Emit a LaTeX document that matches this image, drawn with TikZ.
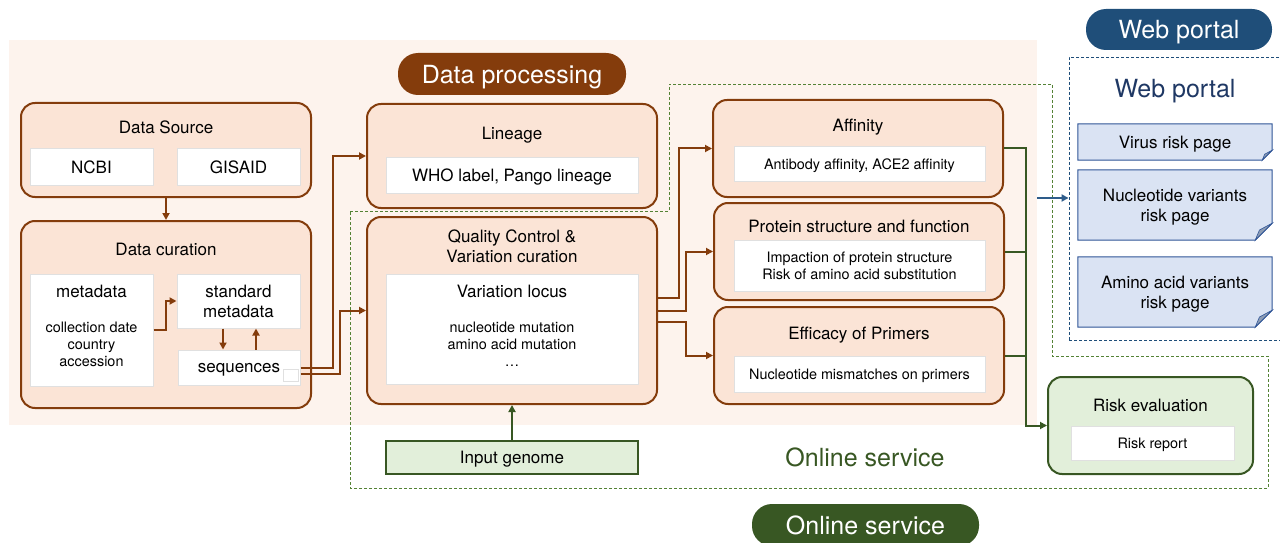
\documentclass[tikz,border=0pt]{standalone}
\usepackage{fontspec}
\setmainfont{TeX Gyre Heros}
\usetikzlibrary{arrows.meta,backgrounds}

\definecolor{bgColor}{RGB}{253,243,237}
\definecolor{boxFill}{RGB}{251,228,214}
\definecolor{brownColor}{RGB}{132,60,12}
\definecolor{greenColor}{RGB}{56,87,35}
\definecolor{greenFill}{RGB}{226,239,218}
\definecolor{dashGreen}{RGB}{84,130,53}
\definecolor{blueColor}{RGB}{31,78,121}
\definecolor{arrowBlue}{RGB}{46,92,138}
\definecolor{pageFill}{RGB}{218,227,243}
\definecolor{pageLine}{RGB}{47,85,151}
\definecolor{foldColor}{RGB}{140,156,180}
\definecolor{titleBlue}{RGB}{31,56,100}

\tikzset{
  stage/.style={draw=brownColor,fill=boxFill,line width=2pt,rounded corners=14pt,inner sep=0pt},
  item/.style={draw=black!12,fill=white,line width=1pt,inner sep=0pt},
  title/.style={font=\fontsize{17}{20}\selectfont,align=center,inner sep=0pt,text depth=0pt},
  small/.style={font=\fontsize{14.4}{17}\selectfont,align=center,inner sep=0pt,text depth=0pt},
  big/.style={font=\fontsize{25}{30}\selectfont,inner sep=0pt},
  pill/.style={rounded corners=20pt,inner sep=0pt,text=white,text depth=0pt,font=\fontsize{25}{30}\selectfont},
  flow/.style={draw=brownColor,line width=2pt,-{Triangle[length=7pt,width=7pt]}},
  okFlow/.style={draw=greenColor,line width=2pt},
  dashG/.style={draw=dashGreen,line width=0.9pt,dash pattern=on 3pt off 2pt},
  dashB/.style={draw=blueColor,line width=0.9pt,dash pattern=on 3pt off 2pt}
}

\begin{document}
\begin{tikzpicture}[x=1pt,y=1pt]
\path[use as bounding box] (0,0) rectangle (1280,542);
\fill[bgColor] (9,117) rectangle (1037,502);

\node[pill,fill=brownColor,minimum width=228pt,minimum height=42pt] (dp) at (512,468) {Data processing};

\node[stage,minimum width=290pt,minimum height=94pt] (src) at (166,392) {};
\node[title] (srcT) at (166,415) {Data Source};
\node[item,title,minimum width=123pt,minimum height=36pt] (ncbi) at (91.5,375) {NCBI};
\node[item,title,minimum width=123pt,minimum height=36pt] (gisaid) at (238.5,375) {GISAID};

\node[stage,minimum width=290pt,minimum height=187pt] (cur) at (166,227.5) {};
\node[title] (curT) at (166,293) {Data curation};
\node[item,minimum width=123pt,minimum height=112pt] (meta) at (91.5,212) {};
\node[title] (metaT) at (91.5,251) {metadata};
\node[small] (metaL) at (91.5,198) {collection date\\country\\accession};
\node[item,title,minimum width=123pt,minimum height=54pt] (std) at (238.5,241) {standard\\metadata};
\node[item,title,minimum width=122pt,minimum height=35pt] (seq) at (239,174.5) {sequences};
\node[draw=black!12,fill=white,line width=0.6pt,minimum width=15pt,minimum height=12pt,inner sep=0pt] (seqMark) at (290.5,167) {};

\node[stage,minimum width=290pt,minimum height=104pt] (lin) at (512,386) {};
\node[title] (linT) at (512,409) {Lineage};
\node[item,title,minimum width=252pt,minimum height=35pt] (linI) at (512,366.5) {WHO label, Pango lineage};

\node[stage,minimum width=290pt,minimum height=187pt] (qc) at (512,231.5) {};
\node[title] (qcT) at (512,296) {Quality Control \&\\Variation curation};
\node[item,minimum width=252pt,minimum height=110pt] (locus) at (512,213) {};
\node[title] (locusT) at (512,251) {Variation locus};
\node[small] (locusL) at (512,197.5) {nucleotide mutation\\amino acid mutation\\\dots};

\node[draw=greenColor,fill=greenFill,line width=2pt,title,minimum width=252pt,minimum height=33pt] (gen) at (512,84.5) {Input genome};

\node[stage,minimum width=290pt,minimum height=97pt] (aff) at (858,393.5) {};
\node[title] (affT) at (858,417) {Affinity};
\node[item,small,minimum width=251pt,minimum height=35pt] (affI) at (859.5,377.5) {Antibody affinity, ACE2 affinity};

\node[stage,minimum width=290pt,minimum height=97pt] (prot) at (859,290.5) {};
\node[title] (protT) at (859,316) {Protein structure and function};
\node[item,small,minimum width=251pt,minimum height=51pt] (protI) at (859.5,276.5) {Impaction of protein structure\\Risk of amino acid substitution};

\node[stage,minimum width=290pt,minimum height=97pt] (eff) at (859,186.5) {};
\node[title] (effT) at (859,209) {Efficacy of Primers};
\node[item,small,minimum width=251pt,minimum height=36pt] (effI) at (859.5,168) {Nucleotide mismatches on primers};

\node[stage,draw=greenColor,fill=greenFill,minimum width=205pt,minimum height=97pt] (risk) at (1150.5,116.5) {};
\node[title] (riskT) at (1150.5,137) {Risk evaluation};
\node[item,small,minimum width=163pt,minimum height=34pt] (riskI) at (1152.5,99) {Risk report};

\draw[flow] (src.south) -- (cur.north);
\draw[flow] (meta.east) -- ++(12,0) |- (std.west);
\draw[flow] ([xshift=-15.5pt]std.south) -- ([xshift=-16pt]seq.north);
\draw[flow] ([xshift=17pt]seq.north) -- ([xshift=17.5pt]std.south);
\draw[flow] (seq.east) -- (333,174.5) |- (lin.west);
\draw[flow] ([yshift=-6pt]seq.east) -- (340,168.5) |- (qc.west);
\draw[flow] ([yshift=12.5pt]qc.east) -- (679,244) |- (aff.west);
\draw[flow] (qc.east) -- (686,231.5) |- (prot.west);
\draw[flow] ([yshift=-11.5pt]qc.east) -- (686,220) |- (eff.west);
\draw[draw=greenColor,line width=2pt,-{Triangle[length=7pt,width=7pt]}] (gen.north) -- (qc.south);

\coordinate (join) at (1026,116.5);
\draw[okFlow,-{Triangle[length=7pt,width=7pt]}] (aff.east) -| (join) -- (risk.west);
\draw[okFlow] (prot.east) -| (join);
\draw[okFlow] (eff.east) -| (join);

\draw[dashG] (350,331) -- (669,331) -- (669,458) -- (1052,458) -- (1052,186) -- (1268,186) -- (1268,54) -- (350,54) -- cycle;
\node[big,text=greenColor] (onlineT) at (865,85) {Online service};
\node[pill,fill=greenColor,minimum width=227pt,minimum height=42pt] (online) at (865.5,17) {Online service};

\node[pill,fill=blueColor,minimum width=186pt,minimum height=41pt] (portal) at (1179,512.5) {Web portal};
\node[dashB,minimum width=216pt,minimum height=283pt,inner sep=0pt] (web) at (1177,343.5) {};
\node[big,text=titleBlue] (webT) at (1175,451) {Web portal};
\node[title,minimum width=194pt,minimum height=36pt] (virus) at (1175,400) {Virus risk page};
\node[title,minimum width=194pt,minimum height=70pt] (nucl) at (1175,337) {Nucleotide variants\\risk page};
\node[title,minimum width=194pt,minimum height=70pt] (amino) at (1175,250) {Amino acid variants\\risk page};
\begin{scope}[on background layer]
\foreach \p/\c in {virus/10,nucl/17,amino/17}{
  \filldraw[fill=pageFill,draw=pageLine,line width=1pt] (\p.north west) -- (\p.north east) -- ([yshift=\c]\p.south east) -- ([xshift=-\c]\p.south east) -- (\p.south west) -- cycle;
  \filldraw[fill=foldColor,draw=pageLine,line width=0.6pt] ([yshift=\c]\p.south east) -- ([xshift=-\c]\p.south east) -- ([xshift=-0.75*\c,yshift=0.6*\c]\p.south east) -- cycle;
}
\end{scope}

\coordinate (portalIn) at (1037,344);
\draw[draw=arrowBlue,line width=2pt,-{Triangle[length=7pt,width=7pt]}] (portalIn) -- (portalIn -| web.west);
\end{tikzpicture}
\end{document}
